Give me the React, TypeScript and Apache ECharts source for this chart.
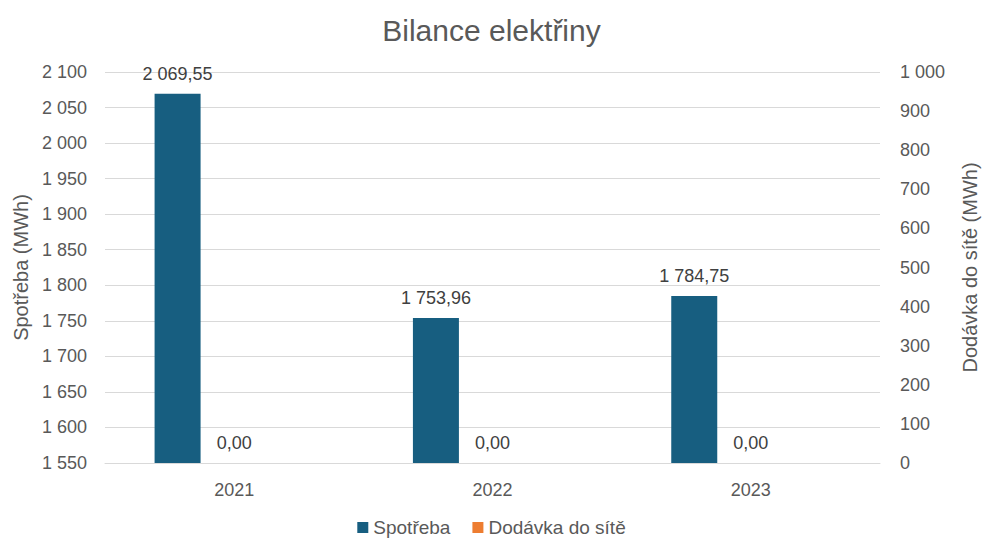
import React, { useEffect, useRef } from "react";
import * as echarts from "echarts";

const categories = ["2021", "2022", "2023"];
const spotreba = [2069.55, 1753.96, 1784.75];
const dodavka = [0, 0, 0];
const leftMin = 1550;
const leftMax = 2100;
const leftInterval = 50;
const rightMin = 0;
const rightMax = 1000;
const rightInterval = 100;

const FONT = "'Liberation Sans', Arial, sans-serif";
const TXT = "#595959";

function czInt(v: number): string {
  const s = Math.round(v).toString();
  return s.replace(/\B(?=(\d{3})+(?!\d))/g, " ");
}
function czDec(v: number): string {
  const [i, d] = v.toFixed(2).split(".");
  return i.replace(/\B(?=(\d{3})+(?!\d))/g, " ") + "," + d;
}

export default function App() {
  const ref = useRef<HTMLDivElement>(null);
  useEffect(() => {
    document.body.style.margin = "0";
    const chart = echarts.init(ref.current!, undefined, { renderer: "svg" });
    chart.setOption({
      animation: false,
      backgroundColor: "#ffffff",
      textStyle: { fontFamily: FONT },
      title: {
        text: "Bilance elektřiny",
        left: "center",
        top: 10,
        textStyle: { fontFamily: FONT, fontSize: 30, fontWeight: "normal", color: TXT },
      },
      legend: {
        bottom: -4,
        left: "center",
        itemWidth: 11,
        itemHeight: 11,
        itemGap: 22,
        icon: "rect",
        data: ["Spotřeba", "Dodávka do sítě"],
        textStyle: { fontFamily: FONT, fontSize: 19, color: TXT },
      },
      grid: { left: 105, right: 103, top: 72, bottom: 75, containLabel: false, outerBoundsMode: "none" },
      xAxis: {
        type: "category",
        data: categories,
        axisTick: { show: false },
        axisLine: { show: true, lineStyle: { color: "#D9D9D9", width: 1 } },
        axisLabel: { fontFamily: FONT, fontSize: 18, color: TXT, margin: 18 },
      },
      yAxis: [
        {
          type: "value",
          min: leftMin,
          max: leftMax,
          interval: leftInterval,
          name: "Spotřeba (MWh)",
          nameLocation: "middle",
          nameGap: 74,
          nameTextStyle: { fontFamily: FONT, fontSize: 20, color: TXT },
          axisLine: { show: false },
          axisTick: { show: false },
          axisLabel: { fontFamily: FONT, fontSize: 18, color: TXT, margin: 18, formatter: (v: number) => czInt(v) },
          splitLine: { lineStyle: { color: "#D9D9D9", width: 1 } },
        },
        {
          type: "value",
          min: rightMin,
          max: rightMax,
          interval: rightInterval,
          name: "Dodávka do sítě (MWh)",
          nameLocation: "middle",
          nameGap: 80,
          nameRotate: 90,
          nameTextStyle: { fontFamily: FONT, fontSize: 20, color: TXT },
          axisLine: { show: false },
          axisTick: { show: false },
          axisLabel: { fontFamily: FONT, fontSize: 18, color: TXT, margin: 20, formatter: (v: number) => czInt(v) },
          splitLine: { show: false },
        },
      ],
      series: [
        {
          name: "Spotřeba",
          type: "bar",
          yAxisIndex: 0,
          data: spotreba,
          barWidth: 46,
          barGap: "23%",
          itemStyle: { color: "#175E80" },
          label: {
            show: true,
            position: "top",
            distance: 11,
            fontFamily: FONT,
            fontSize: 18,
            color: "#404040",
            formatter: (p: any) => czDec(p.value),
          },
        },
        {
          name: "Dodávka do sítě",
          type: "bar",
          yAxisIndex: 1,
          data: dodavka,
          barWidth: 46,
          barGap: "23%",
          itemStyle: { color: "#ED7D31" },
          label: {
            show: true,
            position: "top",
            distance: 11,
            fontFamily: FONT,
            fontSize: 18,
            color: "#404040",
            formatter: (p: any) => czDec(p.value),
          },
        },
        {
          name: "_spacer",
          type: "bar",
          yAxisIndex: 1,
          data: ["-", "-", "-"],
          barWidth: 46,
          barGap: "23%",
          itemStyle: { color: "transparent" },
        },
      ],
    });
    return () => chart.dispose();
  }, []);
  return <div ref={ref} style={{ width: 983, height: 538 }} />;
}
